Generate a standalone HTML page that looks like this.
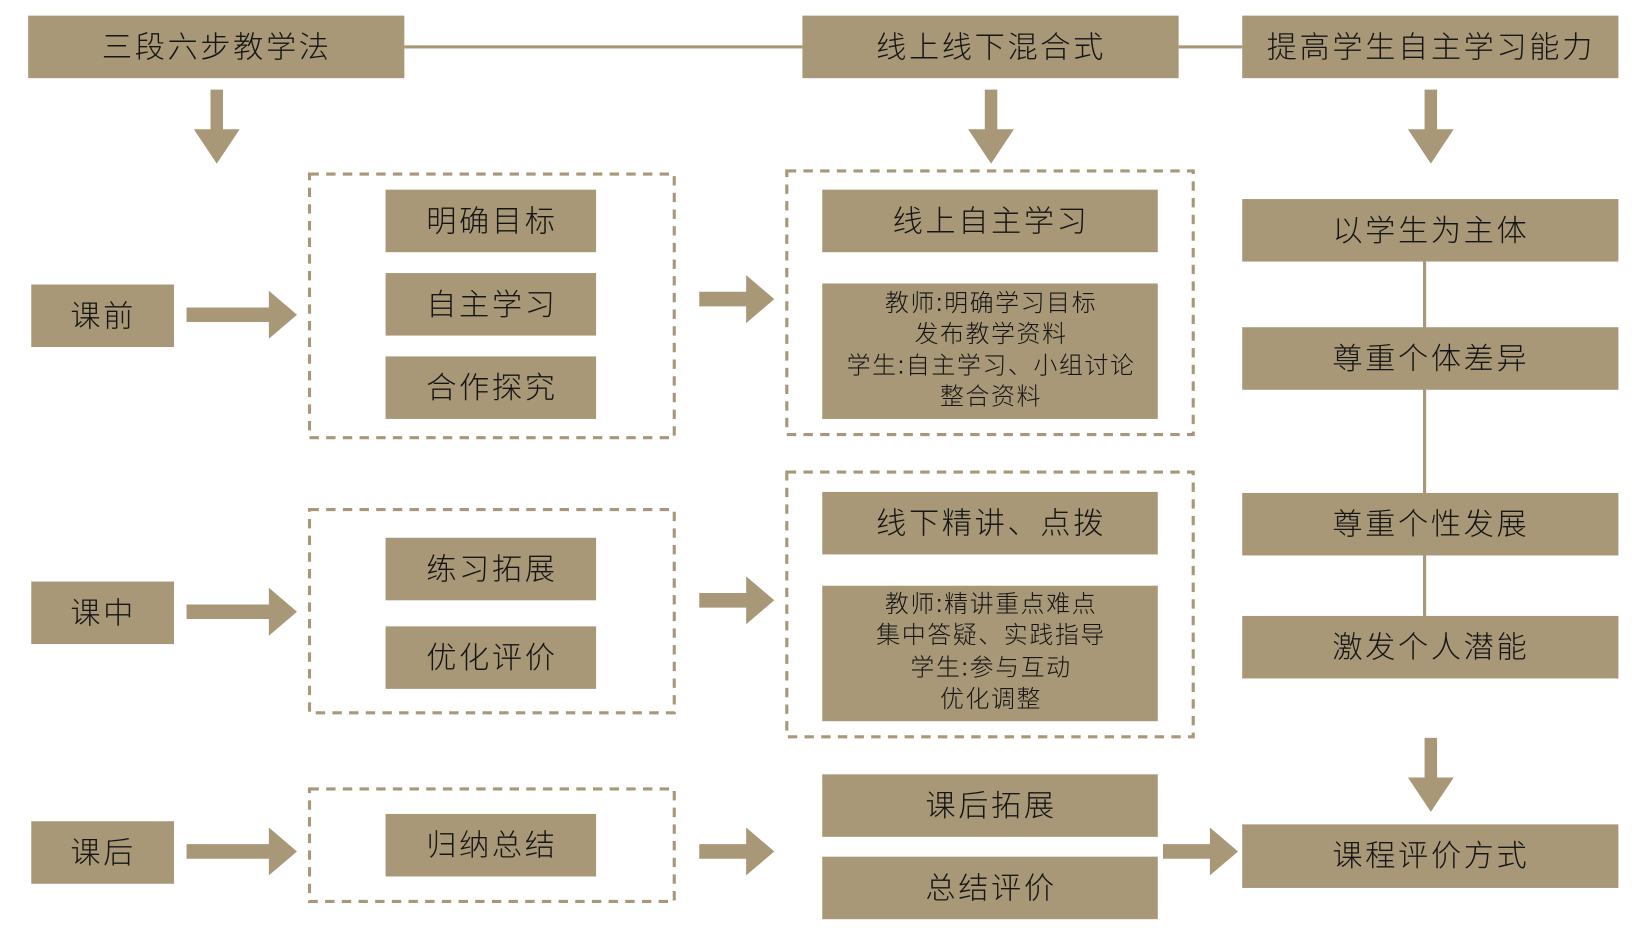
<!DOCTYPE html>
<html><head><meta charset="utf-8"><style>
html,body{margin:0;padding:0;background:#fff;width:1633px;height:939px;overflow:hidden}
svg text{font-family:"Liberation Sans","Noto Sans CJK SC",sans-serif;fill:#151515;text-anchor:middle;dominant-baseline:central;font-weight:300}
</style></head><body>
<svg width="1633" height="939" viewBox="0 0 1567 901" preserveAspectRatio="none" xmlns="http://www.w3.org/2000/svg">
<g fill="#a89877">
<rect x="388" y="43.5" width="382" height="3"/>
<rect x="1131" y="43.5" width="61" height="3"/>
<rect x="27" y="15" width="361" height="60"/>
<rect x="770" y="15" width="361" height="60"/>
<rect x="1192" y="15" width="361" height="60"/>
<path d="M202 86h12v38h16l-22 33l-22-33h16z"/>
<path d="M945 86h12v38h16l-22 33l-22-33h16z"/>
<path d="M1367 86h12v38h16l-22 33l-22-33h16z"/>
<path d="M1367 708h12v38h16l-22 33l-22-33h16z"/>
<rect x="30" y="273" width="137" height="60"/>
<rect x="30" y="558" width="137" height="60"/>
<rect x="30" y="788" width="137" height="60"/>
<path d="M179 295h79v-16l27 23l-27 23v-16h-79z"/>
<path d="M179 580h79v-16l27 23l-27 23v-16h-79z"/>
<path d="M179 810h79v-16l27 23l-27 23v-16h-79z"/>
<path d="M671 280h45v-16l27 23l-27 23v-16h-45z"/>
<path d="M671 569h45v-16l27 23l-27 23v-16h-45z"/>
<path d="M671 810h45v-16l27 23l-27 23v-16h-45z"/>
<path d="M1116 810h45v-16l27 23l-27 23v-16h-45z"/>
<rect x="370" y="182" width="202" height="60"/>
<rect x="370" y="262" width="202" height="60"/>
<rect x="370" y="342" width="202" height="60"/>
<rect x="370" y="516" width="202" height="60"/>
<rect x="370" y="601" width="202" height="60"/>
<rect x="370" y="781" width="202" height="60"/>
<rect x="789" y="182" width="322" height="60"/>
<rect x="789" y="272" width="322" height="130"/>
<rect x="789" y="472" width="322" height="60"/>
<rect x="789" y="562" width="322" height="130"/>
<rect x="789" y="743" width="322" height="60"/>
<rect x="789" y="822" width="322" height="60"/>
<rect x="1365.5" y="251" width="3" height="340"/>
<rect x="1192" y="191" width="361" height="60"/>
<rect x="1192" y="314" width="361" height="60"/>
<rect x="1192" y="473" width="361" height="60"/>
<rect x="1192" y="591" width="361" height="60"/>
<rect x="1192" y="791" width="361" height="61"/>
</g>
<g fill="none" stroke="#a89877" stroke-width="3" stroke-dasharray="9 7">
<rect x="297" y="167" width="350" height="253"/>
<rect x="297" y="489" width="350" height="195"/>
<rect x="297" y="757" width="350" height="108"/>
<rect x="755" y="164" width="390" height="253"/>
<rect x="755" y="453" width="390" height="254"/>
</g>
<g font-size="29" letter-spacing="2.5">
<text x="208" y="46">三段六步教学法</text>
<text x="951" y="46">线上线下混合式</text>
<text x="1373" y="46">提高学生自主学习能力</text>
<text x="99" y="304">课前</text>
<text x="99" y="589">课中</text>
<text x="99" y="819">课后</text>
<text x="472" y="213">明确目标</text>
<text x="472" y="293">自主学习</text>
<text x="472" y="373">合作探究</text>
<text x="472" y="547">练习拓展</text>
<text x="472" y="632">优化评价</text>
<text x="472" y="812">归纳总结</text>
<text x="951" y="213">线上自主学习</text>
<text x="951" y="503">线下精讲、点拨</text>
<text x="951" y="774">课后拓展</text>
<text x="951" y="853">总结评价</text>
<text x="1373" y="222">以学生为主体</text>
<text x="1373" y="345">尊重个体差异</text>
<text x="1373" y="504">尊重个性发展</text>
<text x="1373" y="622">激发个人潜能</text>
<text x="1373" y="822">课程评价方式</text>
</g>
<g font-size="23" letter-spacing="1.5">
<text x="951" y="291">教师:明确学习目标</text>
<text x="951" y="321">发布教学资料</text>
<text x="951" y="351">学生:自主学习、小组讨论</text>
<text x="951" y="381">整合资料</text>
<text x="951" y="580">教师:精讲重点难点</text>
<text x="951" y="610">集中答疑、实践指导</text>
<text x="951" y="641">学生:参与互动</text>
<text x="951" y="671">优化调整</text>
</g>
</svg>
</body></html>
